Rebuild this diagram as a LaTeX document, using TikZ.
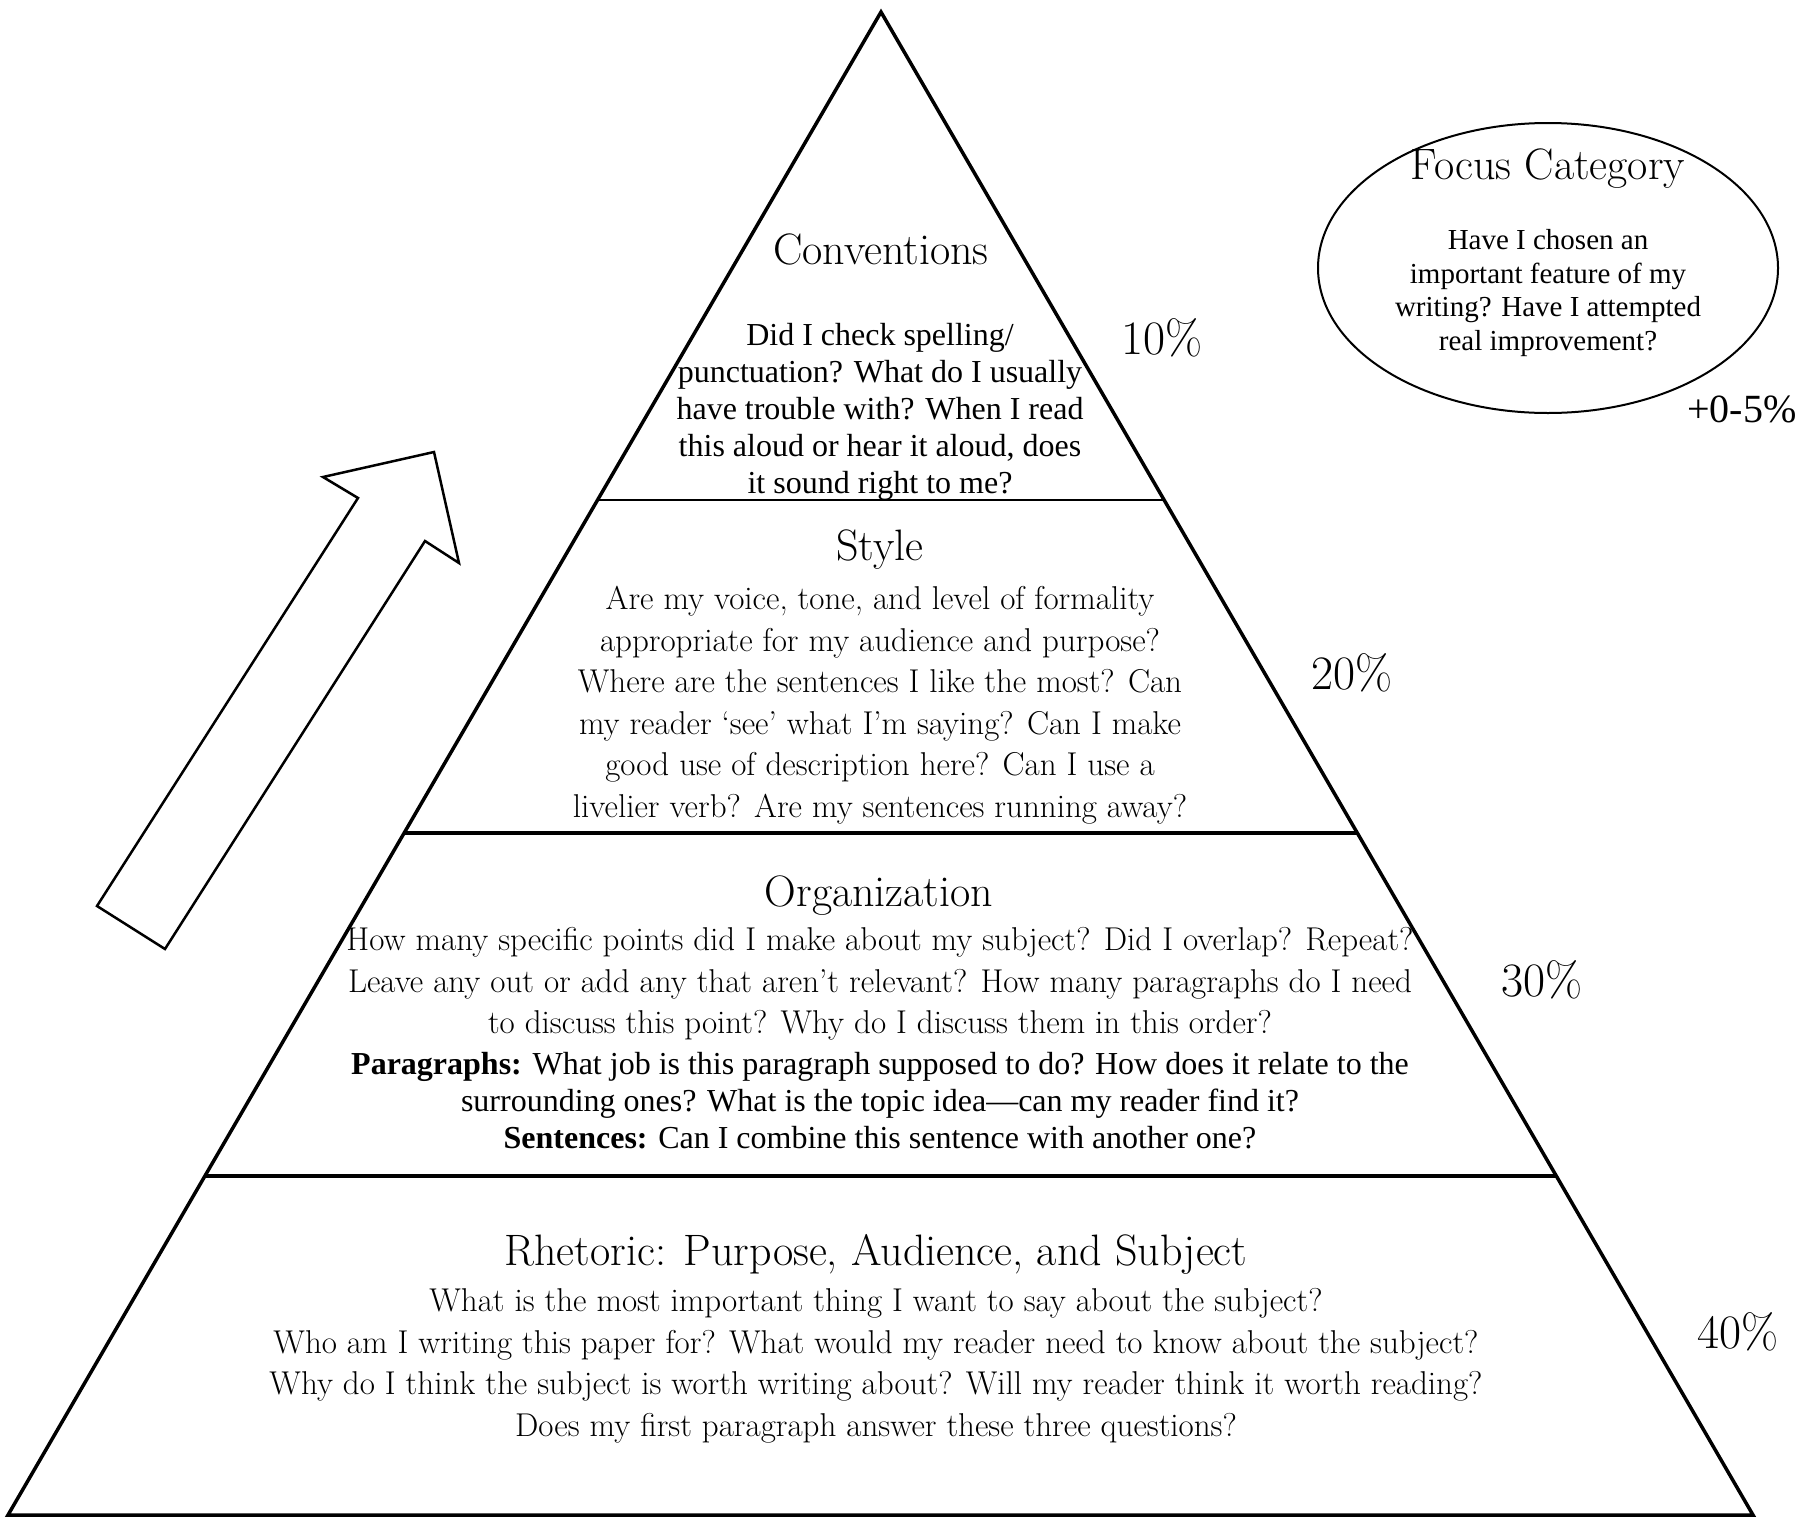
\documentclass[tikz,border=0pt]{standalone}
\usepackage{fontspec}
\newfontfamily\tnr{Liberation Serif}
\usetikzlibrary{calc,shapes.geometric}
\begin{document}
\begin{tikzpicture}[x=1pt,y=-1pt,
  heading/.style={font=\fontsize{44}{52}\selectfont, inner sep=0pt},
  lmbody/.style={font=\fontsize{33}{41.5}\selectfont, align=center, inner sep=0pt},
  tbody/.style={font=\tnr\fontsize{32}{36.9}\selectfont, align=center, inner sep=0pt},
  fbody/.style={font=\tnr\fontsize{29}{33.4}\selectfont, align=center, inner sep=0pt},
  pct/.style={font=\fontsize{48}{56}\selectfont, inner sep=0pt},
  tpct/.style={font=\tnr\fontsize{40}{48}\selectfont, inner sep=0pt},
  pyr/.style={line width=3.5pt, line join=miter},
  tier/.style={line width=3.2pt},
  bigarrow/.style={line width=2.5pt, line join=miter, fill=white},
  focusshape/.style={draw, ellipse, line width=2pt, inner sep=0pt, minimum width=460pt, minimum height=290pt}]
\fill[white] (0,0) rectangle (1806,1518);
\useasboundingbox (0,0) rectangle (1806,1518);

% pyramid
\coordinate (apex) at (881,12);
\coordinate (bl) at (8,1515);
\coordinate (br) at (1753,1515);
\draw[pyr] (apex) -- (bl) -- (br) -- cycle;

\coordinate (l1a) at ($(apex)!0.3247!(bl)$);
\coordinate (l1b) at ($(apex)!0.3247!(br)$);
\coordinate (l2a) at ($(apex)!0.5462!(bl)$);
\coordinate (l2b) at ($(apex)!0.5462!(br)$);
\coordinate (l3a) at ($(apex)!0.7745!(bl)$);
\coordinate (l3b) at ($(apex)!0.7745!(br)$);
\draw[tier, line width=2.6pt] (l1a) -- (l1b);
\draw[tier] (l2a) -- (l2b);
\draw[tier] (l3a) -- (l3b);

% arrow
\draw[bigarrow] (97,906) -- (358,498) -- (323,477) -- (434,452) -- (459,563) -- (425,541) -- (165,949) -- cycle;

% focus ellipse
\node[focusshape] (focusoval) at (1548,268) {};

% headings
\node[heading] (conv) at (881,249.5) {Conventions};
\node[heading] (style) at (880,550) {Style};
\node[heading] (org) at (879,896) {Organization};
\node[heading] (rhet) at (876,1254) {Rhetoric: Purpose, Audience, and Subject};
\node[heading] (focus) at (1548,169) {Focus Category};

% bodies
\node[tbody] (convbody) at (880,412) {Did I check spelling/\\punctuation? What do I usually\\have trouble with? When I read\\this aloud or hear it aloud, does\\it sound right to me?};
\node[lmbody] (stylebody) at (880,705) {Are my voice, tone, and level of formality\\appropriate for my audience and purpose?\\Where are the sentences I like the most? Can\\my reader ‘see’ what I’m saying? Can I make\\good use of description here? Can I use a\\livelier verb? Are my sentences running away?};
\node[lmbody] (orgbodya) at (880,984) {How many specific points did I make about my subject? Did I overlap? Repeat?\\Leave any out or add any that aren’t relevant? How many paragraphs do I need\\to discuss this point? Why do I discuss them in this order?};
\node[tbody] (orgbodyb) at (880,1101) {\textbf{Paragraphs:} What job is this paragraph supposed to do? How does it relate to the\\surrounding ones? What is the topic idea—can my reader find it?\\\textbf{Sentences:} Can I combine this sentence with another one?};
\node[lmbody] (rhetbody) at (876,1366) {What is the most important thing I want to say about the subject?\\Who am I writing this paper for? What would my reader need to know about the subject?\\Why do I think the subject is worth writing about? Will my reader think it worth reading?\\Does my first paragraph answer these three questions?};
\node[fbody] (focusbody) at (1548,293) {Have I chosen an\\important feature of my\\writing? Have I attempted\\real improvement?};

% percentages
\node[pct] (p10) at (1162,338) {10\%};
\node[pct] (p20) at (1352,673) {20\%};
\node[pct] (p30) at (1542,980) {30\%};
\node[pct] (p40) at (1738,1332) {40\%};
\node[tpct] (p05) at (1742,409) {+0-5\%};
\end{tikzpicture}
\end{document}
